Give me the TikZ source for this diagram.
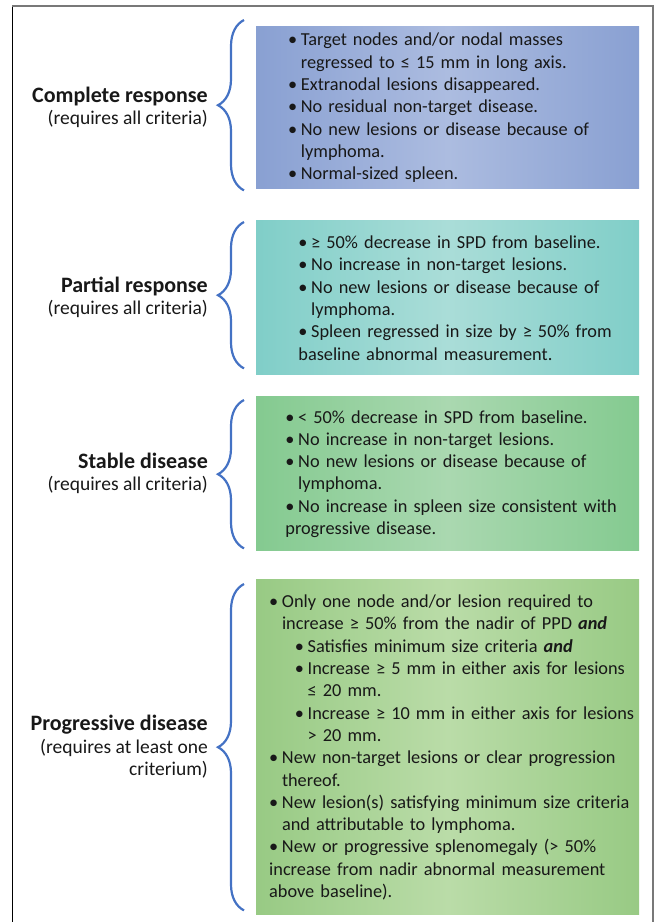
\documentclass[tikz,border=0pt]{standalone}
\usepackage{fontspec}
\setmainfont{Carlito}
\usetikzlibrary{positioning,decorations.pathreplacing}

\definecolor{crblue}{RGB}{137,160,210}
\definecolor{crlight}{RGB}{172,188,224}
\definecolor{prteal}{RGB}{128,206,200}
\definecolor{prlight}{RGB}{170,221,216}
\definecolor{sdgreen}{RGB}{132,202,144}
\definecolor{sdlight}{RGB}{170,216,176}
\definecolor{pdgreen}{RGB}{152,202,132}
\definecolor{pdlight}{RGB}{186,220,168}
\definecolor{bracecol}{RGB}{68,114,196}
\definecolor{inkcol}{RGB}{24,24,24}
\definecolor{framecol}{RGB}{120,120,120}

\newlength{\bulw}\setlength{\bulw}{12.8pt}
\newlength{\subw}\setlength{\subw}{25.7pt}
\newcommand{\itm}[1]{\par\hangindent=\bulw\hangafter=1\noindent\makebox[\bulw][l]{•}#1}
\newcommand{\subitm}[1]{\par\hangindent=\dimexpr\subw+\bulw\relax\hangafter=1\noindent\hspace*{\subw}\makebox[\bulw][l]{•}#1}
\newcommand{\bi}[1]{\textbf{\textit{#1}}}

\tikzset{
    box/.style={minimum width=383pt, anchor=north west, inner sep=0pt},
    crit/.style={anchor=west, yshift=4pt, text width=380pt, align=left, inner sep=0pt,
        font=\fontsize{18.3}{22.3}\selectfont, text=inkcol},
    resp/.style={align=right, inner sep=0pt,
        font=\fontsize{19.5}{22.3}\selectfont, text=inkcol},
    curly/.style={draw=bracecol, line width=2.2pt, decorate,
        decoration={brace, amplitude=26pt}},
}

\begin{document}
\begin{tikzpicture}[x=1pt, y=-1pt]
    \useasboundingbox (0,0) rectangle (660,922);

    % Frame
    \draw[line width=1pt, black] (12,922) -- (12,6);
    \draw[line width=1.8pt, framecol] (12,6) -- (653,6) -- (653,922);

    % Shaded boxes
    \node[box, minimum height=162pt, left color=crblue, right color=crblue, middle color=crlight] (cr) at (256,26) {};
    \node[box, minimum height=154pt, left color=prteal, right color=prteal, middle color=prlight] (pr) at (256,220) {};
    \node[box, minimum height=154pt, left color=sdgreen, right color=sdgreen, middle color=sdlight] (sd) at (256,396) {};
    \node[box, minimum height=335pt, left color=pdgreen, right color=pdgreen, middle color=pdlight] (pd) at (256,579) {};

    % Braces
    \draw[curly] ([xshift=-12pt,yshift=-2pt]cr.south west) -- ([xshift=-12pt,yshift=6pt]cr.north west);
    \draw[curly] ([xshift=-12pt,yshift=6pt]pr.south west) -- ([xshift=-12pt,yshift=-2pt]pr.north west);
    \draw[curly] ([xshift=-12pt,yshift=2pt]sd.south west) -- ([xshift=-12pt,yshift=-4pt]sd.north west);
    \draw[curly] ([xshift=-12pt,yshift=4pt]pd.south west) -- ([xshift=-12pt,yshift=-5pt]pd.north west);

    % Response labels
    \node[resp, left=48pt of cr.west] (crlabel) {{\fontsize{22}{22.3}\selectfont\bfseries Complete response}\\(requires all criteria)};
    \node[resp, left=48pt of pr.west] (prlabel) {{\fontsize{22}{22.3}\selectfont\bfseries Partial response}\\(requires all criteria)};
    \node[resp, left=48pt of sd.west] (sdlabel) {{\fontsize{22}{22.3}\selectfont\bfseries Stable disease}\\(requires all criteria)};
    \node[resp, left=48pt of pd.west] (pdlabel) {{\fontsize{22}{22.3}\selectfont\bfseries Progressive disease}\\(requires at least one\\criterium)};

    % Criteria lists
    \node[crit] (crlist) at ([xshift=31.9pt]cr.west) {%
        \itm{Target nodes and/or nodal masses\newline regressed to ≤ 15 mm in long axis.}
        \itm{Extranodal lesions disappeared.}
        \itm{No residual non-target disease.}
        \itm{No new lesions or disease because of\newline lymphoma.}
        \itm{Normal-sized spleen.}};
    \node[crit] (prlist) at ([xshift=42.2pt]pr.west) {%
        \itm{≥ 50\% decrease in SPD from baseline.}
        \itm{No increase in non-target lesions.}
        \itm{No new lesions or disease because of\newline lymphoma.}
        \itm{Spleen regressed in size by ≥ 50\% from\newline baseline abnormal measurement.}};
    \node[crit] (sdlist) at ([xshift=29.2pt]sd.west) {%
        \itm{< 50\% decrease in SPD from baseline.}
        \itm{No increase in non-target lesions.}
        \itm{No new lesions or disease because of\newline lymphoma.}
        \itm{No increase in spleen size consistent with\newline progressive disease.}};
    \node[crit] (pdlist) at ([xshift=13pt]pd.west) {%
        \itm{Only one node and/or lesion required to\newline increase ≥ 50\% from the nadir of PPD \bi{and}}
        \subitm{Satisfies minimum size criteria \bi{and}}
        \subitm{Increase ≥ 5 mm in either axis for lesions\newline ≤ 20 mm.}
        \subitm{Increase ≥ 10 mm in either axis for lesions\newline > 20 mm.}
        \itm{New non-target lesions or clear progression\newline thereof.}
        \itm{New lesion(s) satisfying minimum size criteria\newline and attributable to lymphoma.}
        \itm{New or progressive splenomegaly (> 50\%\newline increase from nadir abnormal measurement\newline above baseline).}};
\end{tikzpicture}
\end{document}
